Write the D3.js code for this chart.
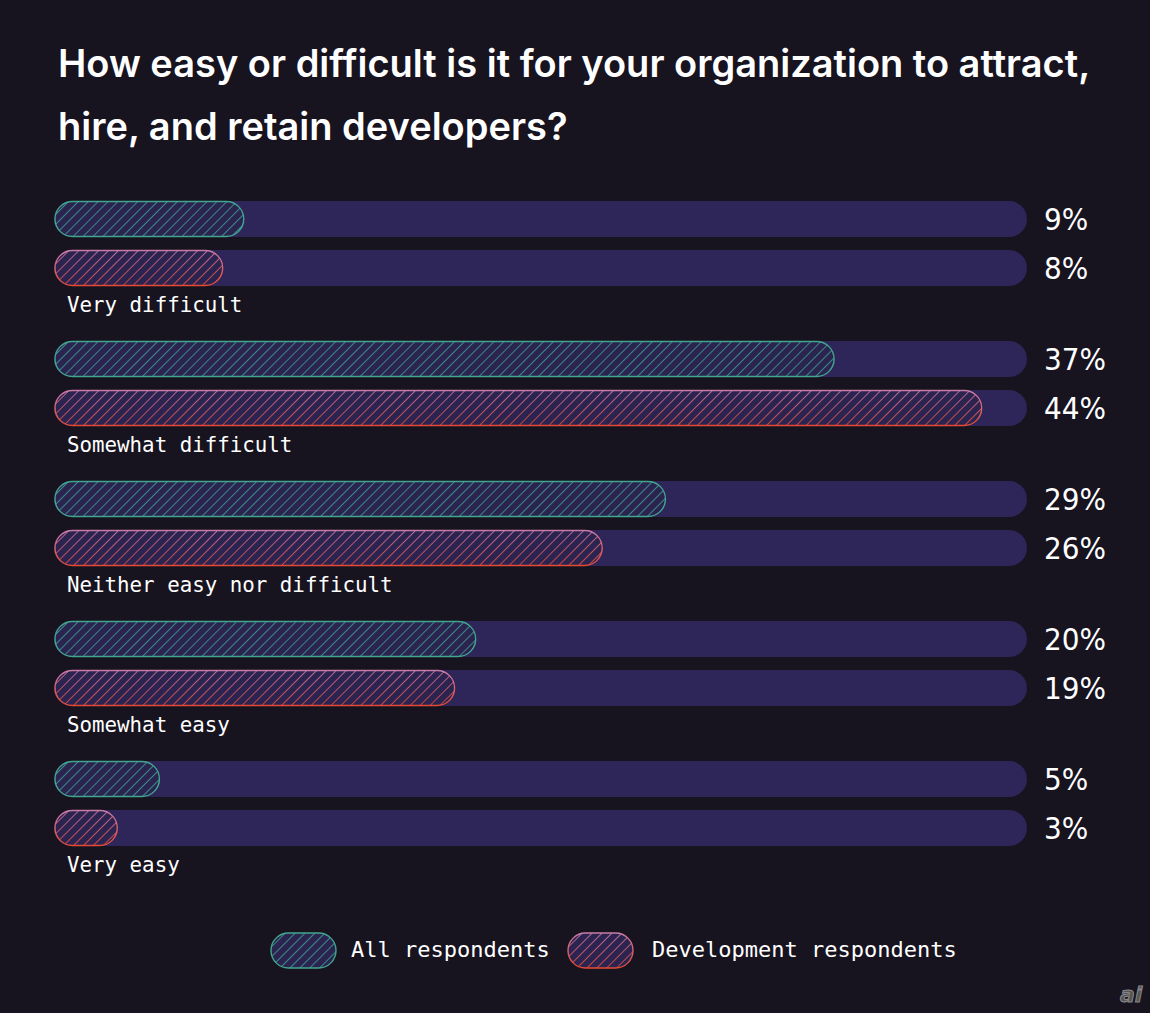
<!DOCTYPE html>
<html>
<head>
<meta charset="utf-8">
<script src="https://cdn.jsdelivr.net/npm/d3@7"></script>
<style>
body { margin: 0; background: #17131f; }
</style>
</head>
<body>
<script>
width = 1150,
height = 1013;

var categories = ["Very difficult", "Somewhat difficult", "Neither easy nor difficult", "Somewhat easy", "Very easy"];
var allValues = [9, 37, 29, 20, 5];
var devValues = [8, 44, 26, 19, 3];
var seriesNames = ["All respondents", "Development respondents"];

var svg = d3.select("body").append("svg").attr("width", width).attr("height", height)
	.style("background", "#17131f")

var defs = svg.append("defs")

// teal hatch
var tp = defs.append("pattern").attr("id", "hatchTeal").attr("patternUnits", "userSpaceOnUse")
	.attr("width", 7).attr("height", 7).attr("patternTransform", "rotate(45)")
tp.append("rect").attr("width", 7).attr("height", 7).attr("fill", "#2b2350")
tp.append("line").attr("x1", 0).attr("y1", 0).attr("x2", 0).attr("y2", 7)
	.style("stroke", "#3c9c8c").style("stroke-width", 1.7)

// red hatch: gradient masked by lines
var rg = defs.append("linearGradient").attr("id", "redGrad").attr("x1", 0).attr("y1", 0).attr("x2", 0).attr("y2", 1)
rg.append("stop").attr("offset", "0%").attr("stop-color", "#c97ba8")
rg.append("stop").attr("offset", "100%").attr("stop-color", "#e24a34")

var rm = defs.append("pattern").attr("id", "hatchRedLines").attr("patternUnits", "userSpaceOnUse")
	.attr("width", 7).attr("height", 7).attr("patternTransform", "rotate(45)")
rm.append("line").attr("x1", 0).attr("y1", 0).attr("x2", 0).attr("y2", 7)
	.style("stroke", "white").style("stroke-width", 1.7)
defs.append("mask").attr("id", "redMask").attr("maskUnits", "userSpaceOnUse").attr("maskContentUnits", "userSpaceOnUse")
	.attr("x", 0).attr("y", 0).attr("width", width).attr("height", height)
	.append("rect").attr("x", 0).attr("y", 0).attr("width", width).attr("height", height)
	.attr("fill", "url(#hatchRedLines)")

// title
var titleLines = ["How easy or difficult is it for your organization to attract,", "hire, and retain developers?"];
svg.selectAll(".title").data(titleLines).enter().append("text").attr("class", "title")
	.attr("x", 58).attr("y", function(d, i) { return 77 + i * 63 })
	.text(function(d) { return d })
	.style("font-family", "Inter").style("font-weight", 600).style("font-size", "38px").style("fill", "white")

X = d3.scaleLinear().domain([0, 46.15]).range([54, 1027]);
Y = d3.scaleBand().domain(categories).range([200, 900]).paddingInner(0);

var barH = 36, gap = 13;

var groups = svg.selectAll(".grp").data(categories).enter().append("g").attr("class", "grp")
	.attr("transform", function(d) { return "translate(0," + Y(d) + ")" })

// tracks
groups.selectAll(".track").data([0, 1]).enter().append("rect").attr("class", "track")
	.attr("x", X(0)).attr("y", function(d) { return 1 + d * (barH + gap) })
	.attr("width", 1027 - X(0)).attr("height", barH).attr("rx", barH / 2)
	.style("fill", "#2e2558")

// all respondents bars
groups.append("rect")
	.attr("x", X(0) + 1).attr("y", 1.5)
	.attr("width", function(d, i) { return X(allValues[i]) - X(0) - 1 })
	.attr("height", barH - 1).attr("rx", (barH - 1) / 2)
	.style("fill", "url(#hatchTeal)").style("stroke", "#41a68f").style("stroke-width", 1.4)

// dev bars
function devBar(sel, fill, mask, stroke) {
	var r = sel.append("rect")
		.attr("x", X(0) + 1).attr("y", 1.5 + barH + gap)
		.attr("width", function(d, i) { return X(devValues[i]) - X(0) - 1 })
		.attr("height", barH - 1).attr("rx", (barH - 1) / 2)
		.style("fill", fill)
	if (mask) r.attr("mask", "url(#redMask)")
	if (stroke) r.style("stroke", stroke).style("stroke-width", 1.4)
}
devBar(groups, "#2b2350")
devBar(groups, "url(#redGrad)", true)
devBar(groups, "none", false, "url(#redGrad)")

// value labels
var pctFont = "DejaVu Sans Condensed, DejaVu Sans";
groups.append("text").attr("x", 1044).attr("y", 30)
	.text(function(d, i) { return allValues[i] + "%" })
	.style("font-family", pctFont).style("font-size", "31px").style("fill", "white")
groups.append("text").attr("x", 1044).attr("y", 30 + barH + gap)
	.text(function(d, i) { return devValues[i] + "%" })
	.style("font-family", pctFont).style("font-size", "31px").style("fill", "white")

// category labels
groups.append("text").attr("x", 67).attr("y", 112)
	.text(function(d) { return d })
	.style("font-family", "DejaVu Sans Mono").style("font-size", "20.8px").style("fill", "white")

// legend
var legend = svg.append("g")
legend.append("rect").attr("x", 271).attr("y", 933).attr("width", 65).attr("height", 35).attr("rx", 17.5)
	.style("fill", "url(#hatchTeal)").style("stroke", "#41a68f").style("stroke-width", 1.4)
legend.append("text").attr("x", 351).attr("y", 957).text(seriesNames[0])
	.style("font-family", "DejaVu Sans Mono").style("font-size", "22px").style("fill", "white")
var lr = [["#2b2350", false, null], ["url(#redGrad)", true, null], ["none", false, "url(#redGrad)"]];
lr.forEach(function(o) {
	var r = legend.append("rect").attr("x", 568).attr("y", 933).attr("width", 65).attr("height", 35).attr("rx", 17.5)
		.style("fill", o[0])
	if (o[1]) r.attr("mask", "url(#redMask)")
	if (o[2]) r.style("stroke", o[2]).style("stroke-width", 1.4)
})
legend.append("text").attr("x", 652).attr("y", 957).text(seriesNames[1])
	.style("font-family", "DejaVu Sans Mono").style("font-size", "22px").style("fill", "white")

// watermark
svg.append("text").attr("x", 1120).attr("y", 1002).text("ai")
	.style("font-family", "DejaVu Sans").style("font-weight", "bold").style("font-style", "italic")
	.style("font-size", "22px").style("fill", "#555").style("stroke", "#888").style("stroke-width", 1)
</script>
</body>
</html>
